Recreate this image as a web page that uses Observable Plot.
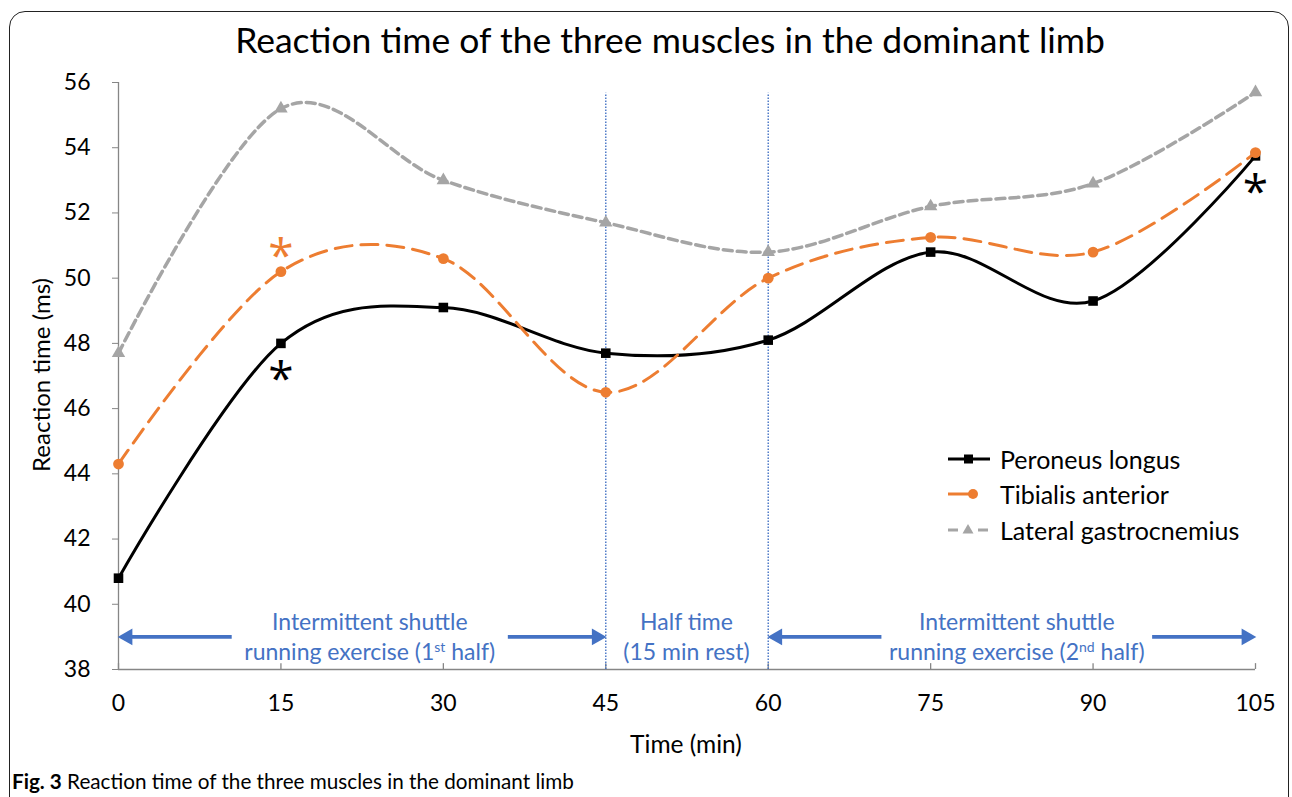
<!DOCTYPE html>
<html>
<head>
<meta charset="utf-8">
<script src="https://cdn.jsdelivr.net/npm/d3@7"></script>
<script src="https://cdn.jsdelivr.net/npm/@observablehq/plot@0.6"></script>
<style>
  body { margin: 0; background: #fff; font-family: Lato, "Open Sans", sans-serif; color: #000; }
  #wrap { position: relative; width: 1292px; height: 797px; overflow: hidden; background: #fff; }
  #frame { position: absolute; left: 9px; top: 11px; width: 1280px; height: 830px; border: 1.5px solid #222; border-radius: 16px; box-sizing: border-box; }
  #title { position: absolute; left: 170px; width: 1000px; top: 17px; text-align: center; font-size: 35.5px; line-height: 46px; }
  #chart { position: absolute; left: 0; top: 60px; }
  .ylab { position: absolute; left: 40px; top: 375px; transform: translate(-50%, -50%) rotate(-90deg); font-size: 24px; white-space: nowrap; }
  .xlab { position: absolute; left: 686px; top: 743px; transform: translate(-50%, -50%); font-size: 24.5px; white-space: nowrap; }
  .ann { position: absolute; transform: translate(-50%, -50%); text-align: center; color: #4472C4; font-size: 23px; line-height: 30px; white-space: nowrap; }
  .ann sup { font-size: 14px; vertical-align: 8px; line-height: 0; }
  #legend { position: absolute; left: 946px; top: 441px; font-size: 25px; }
  #legend .row { display: flex; align-items: center; height: 35.5px; }
  #legend svg { margin-right: 8px; }
  #caption { position: absolute; left: 12px; top: 769px; font-size: 20.7px; white-space: nowrap; }
</style>
</head>
<body>
<div id="wrap">
  <div id="frame"></div>
  <div id="title">Reaction time of the three muscles in the dominant limb</div>
  <div id="chart"></div>
  <div class="ylab">Reaction time (ms)</div>
  <div class="xlab">Time (min)</div>
  <div id="legend"></div>
  <div id="caption"><b>Fig. 3</b> Reaction time of the three muscles in the dominant limb</div>
</div>
<script>
// ---- data ----
const times = [0, 15, 30, 45, 60, 75, 90, 105];
const peroneusLongus = [40.8, 48.0, 49.1, 47.7, 48.1, 50.8, 49.3, 53.75];
const tibialisAnterior = [44.3, 50.2, 50.6, 46.5, 50.0, 51.25, 50.8, 53.85];
const lateralGastrocnemius = [47.7, 55.2, 53.0, 51.7, 50.8, 52.2, 52.9, 55.7];
const seriesNames = ["Peroneus longus", "Tibialis anterior", "Lateral gastrocnemius"];
const xTicks = [0, 15, 30, 45, 60, 75, 90, 105];
const yTicks = [38, 40, 42, 44, 46, 48, 50, 52, 54, 56];
const yDomain = [38, 56];
const dividerTimes = [45, 60];
const dividerTop = 55.67;
const phaseY = 39;
const arrowsLeftHead = [{from: 0, to: 10.5}, {from: 60, to: 70.5}];
const arrowsRightHead = [{from: 36, to: 45}, {from: 95.5, to: 105}];
const phaseLabels = [
  {x: 23.25, html: "Intermittent shuttle<br>running exercise (1<sup>st</sup> half)"},
  {x: 52.5, html: "Half time<br>(15 min rest)"},
  {x: 83, html: "Intermittent shuttle<br>running exercise (2<sup>nd</sup> half)"}
];
const starsOrange = [{t: 15, v: 50.2}];
const starsBlackBelow = [{t: 15, v: 48.0}, {t: 105, v: 53.75}];

const colors = {pl: "#000000", ta: "#ED7D31", lg: "#A5A5A5", blue: "#4472C4", axis: "#868686"};

const toRows = (vals) => times.map((t, i) => ({t, v: vals[i]}));
const plRows = toRows(peroneusLongus);
const taRows = toRows(tibialisAnterior);
const lgRows = toRows(lateralGastrocnemius);

const chart = Plot.plot({
  width: 1292,
  height: 700,
  marginLeft: 118,
  marginRight: 37,
  marginTop: 22,
  marginBottom: 91,
  x: {domain: [0, 105]},
  y: {domain: yDomain},
  style: {fontFamily: "Lato, 'Open Sans', sans-serif", fontSize: "23px", color: "#000", background: "transparent", overflow: "visible"},
  marks: [
    Plot.axisY({ticks: yTicks, tickSize: 6, tickFormat: () => "", label: null, stroke: colors.axis}),
    Plot.text(yTicks, {y: d => d, frameAnchor: "left", text: d => String(d), textAnchor: "end", dx: -28, fontSize: 23, fill: "#000"}),
    Plot.axisX({ticks: xTicks, tickSize: 0, tickPadding: 25, label: null, fontSize: 23}),
    Plot.ruleX([0], {stroke: colors.axis, strokeWidth: 1.3}),
    Plot.ruleY([38], {stroke: colors.axis, strokeWidth: 1.3}),
    Plot.ruleX(xTicks, {x: d => d, y1: 38, y2: 38.18, stroke: colors.axis, strokeWidth: 1.3}),
    Plot.ruleX(dividerTimes, {x: d => d, y1: 38, y2: dividerTop, stroke: colors.blue, strokeWidth: 1.4, strokeDasharray: "1.5,1.5"}),
    // phase arrows
    Plot.ruleY(arrowsLeftHead, {y: () => phaseY, x1: "from", x2: "to", stroke: colors.blue, strokeWidth: 3.8, insetLeft: 9}),
    Plot.ruleY(arrowsRightHead, {y: () => phaseY, x1: "from", x2: "to", stroke: colors.blue, strokeWidth: 3.8, insetRight: 9}),
    Plot.dot(arrowsLeftHead, {x: "from", y: () => phaseY, symbol: "triangle", rotate: -90, r: 6.3, fill: colors.blue, stroke: "none", dx: 9}),
    Plot.dot(arrowsRightHead, {x: "to", y: () => phaseY, symbol: "triangle", rotate: 90, r: 6.3, fill: colors.blue, stroke: "none", dx: -9}),
    // series
    Plot.line(plRows, {x: "t", y: "v", curve: "cardinal", stroke: colors.pl, strokeWidth: 3}),
    Plot.dot(plRows, {x: "t", y: "v", symbol: "square", r: 5.4, fill: colors.pl, stroke: "none"}),
    Plot.line(taRows, {x: "t", y: "v", curve: "cardinal", stroke: colors.ta, strokeWidth: 3, strokeDasharray: "17,9"}),
    Plot.dot(taRows, {x: "t", y: "v", symbol: "circle", r: 5.4, fill: colors.ta, stroke: "none"}),
    Plot.line(lgRows, {x: "t", y: "v", curve: "cardinal", stroke: colors.lg, strokeWidth: 3.5, strokeDasharray: "9,5"}),
    Plot.dot(lgRows, {x: "t", y: "v", symbol: "triangle", r: 5, fill: colors.lg, stroke: "none"}),
    // significance stars
    Plot.text(starsOrange, {x: "t", y: "v", text: () => "*", fill: colors.ta, fontSize: 46, fontFamily: "'Open Sans', sans-serif", dy: -14}),
    Plot.text(starsBlackBelow, {x: "t", y: "v", text: () => "*", fill: "#000", fontSize: 46, fontFamily: "'Open Sans', sans-serif", dy: 37})
  ]
});
document.getElementById("chart").appendChild(chart);

const sx = chart.scale("x"), sy = chart.scale("y");
const wrap = document.getElementById("wrap");
const chartTop = 60, chartLeft = 0;
phaseLabels.forEach(p => {
  const d = document.createElement("div");
  d.className = "ann";
  d.innerHTML = p.html;
  d.style.left = (chartLeft + sx.apply(p.x)) + "px";
  d.style.top = (chartTop + sy.apply(phaseY)) + "px";
  wrap.appendChild(d);
});

// legend
const legendSwatches = [
  `<svg width="46" height="20"><line x1="2" y1="10" x2="44" y2="10" stroke="${colors.pl}" stroke-width="3"/><rect x="18" y="5.5" width="9" height="9" fill="${colors.pl}"/></svg>`,
  `<svg width="46" height="20"><line x1="2" y1="10" x2="26" y2="10" stroke="${colors.ta}" stroke-width="3"/><circle cx="27" cy="10" r="5" fill="${colors.ta}"/></svg>`,
  `<svg width="46" height="20"><line x1="2" y1="10" x2="12" y2="10" stroke="${colors.lg}" stroke-width="3"/><line x1="32" y1="10" x2="42" y2="10" stroke="${colors.lg}" stroke-width="3"/><path d="M22,4 L27.5,13.5 L16.5,13.5 Z" fill="${colors.lg}"/></svg>`
];
const legend = document.getElementById("legend");
seriesNames.forEach((name, i) => {
  const r = document.createElement("div");
  r.className = "row";
  r.innerHTML = legendSwatches[i] + "<span>" + name + "</span>";
  legend.appendChild(r);
});
</script>
</body>
</html>
